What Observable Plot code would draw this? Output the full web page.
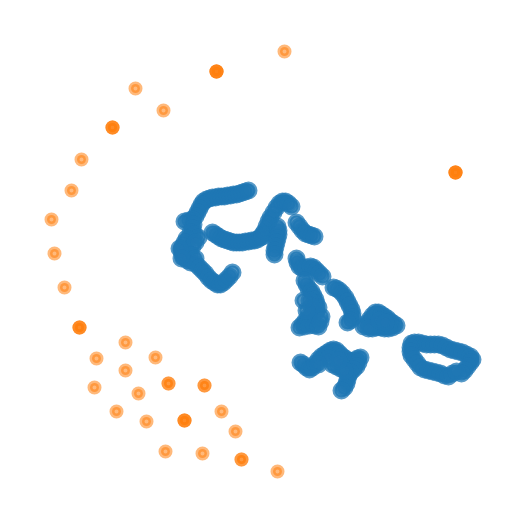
<!DOCTYPE html>
<html><head><meta charset="utf-8">
<script src="https://cdn.jsdelivr.net/npm/d3@7"></script>
<script src="https://cdn.jsdelivr.net/npm/@observablehq/plot@0.6"></script>
<style>body{margin:0;background:#fff}</style>
</head><body><div id="chart"></div>
<script>
// Blue series (x, y)
const blueX = [
  203,206,209,212,215,218,221,224,227,230,233,236,239,242,245,248,
  201,199,197,195,192,188,184,193,192,190,194,198,
  212,215,218,221,224,227,230,233,236,239,242,245,248,251,254,257,260,262,
  186,184,182,181,182,184,187,190,188,192,195,191,195,179,181,
  196,199,202,205,208,211,214,217,220,223,226,229,232,
  262,264,266,268,270,273,276,279,282,285,288,291,277,278,278,277,276,275,274,274,296,299,302,305,308,311,314,
  296,297,299,302,306,310,313,316,319,322,304,306,308,311,313,315,316,318,316,312,308,305,302,299,304,309,314,318,320,321,313,309,311,306,303,
  333,336,339,342,345,347,349,351,352,352,350,347,
  363,366,369,372,375,378,381,384,387,390,393,396,392,388,384,380,376,372,368,379,385,
  411,414,418,422,426,430,434,438,442,446,450,454,458,462,466,470,472,470,467,464,461,
  410,410,411,414,417,420,424,428,432,436,440,444,448,452,456,
  300,303,306,309,312,315,318,321,324,327,330,333,336,339,342,345,348,351,354,357,360,358,356,353,350,348,347,346,344,341,332,336,340,344,328,318,338];
const blueY = [
  201,199,198,197,197,196,196,196,195,195,194,194,193,192,191,190,
  204,208,212,216,219,220,221,224,228,232,234,237,
  232,234,236,238,239,240,241,242,242,242,242,241,241,240,240,239,237,234,
  238,242,246,250,254,257,260,262,250,246,242,255,258,248,258,
  264,267,270,273,277,280,282,284,284,282,279,276,272,
  236,231,226,221,217,212,207,203,201,201,203,206,226,230,234,238,242,246,250,254,222,226,230,233,234,235,236,
  258,262,266,268,267,266,267,270,273,276,280,284,288,291,295,299,303,307,311,313,316,320,324,327,326,325,325,326,321,316,303,300,306,310,300,
  287,288,290,293,297,301,305,309,313,317,320,322,
  326,323,319,315,312,312,314,316,318,321,323,325,327,328,328,327,327,328,328,320,322,
  343,342,342,343,344,344,344,344,345,347,349,350,351,352,354,356,359,362,366,370,373,
  347,351,355,359,363,367,369,370,371,372,373,375,376,373,371,
  362,364,367,369,367,363,359,356,354,352,350,349,350,353,356,358,360,361,360,358,357,362,366,369,372,375,379,383,387,390,364,366,368,370,358,364,360];

// Orange series (x, y, overlap count)
const orangeX = [284,216,135,163,112,81,71,51,54,64,79,125,96,155,125,94,138,168,204,116,146,184,221,235,165,202,241,277,455];
const orangeY = [51,71,88,110,127,159,190,219,253,287,327,342,358,357,370,387,393,383,385,411,421,420,411,431,451,453,459,471,172];
const orangeN = [1,4,1,1,3,1,1,1,1,1,3,1,1,1,1,1,1,2,2,1,1,3,1,1,1,1,2,1,4];

const blue = blueX.map((x, i) => ({x, y: blueY[i]}));
const orange = orangeX.flatMap((x, i) => d3.range(orangeN[i]).map(() => ({x, y: orangeY[i]})));

const chart = Plot.plot({
  width: 525, height: 522,
  margin: 0,
  x: {domain: [0, 525], axis: null},
  y: {domain: [522, 0], axis: null},
  marks: [
    Plot.dot(blue, {x: "x", y: "y", fill: "#1f77b4", stroke: "#1f77b4",
      r: 7, strokeWidth: 4, fillOpacity: 0.8, strokeOpacity: 0.75}),
    Plot.dot(orange, {x: "x", y: "y", fill: "#ff7f0e", stroke: "#ff7f0e",
      r: 4.5, strokeWidth: 5, fillOpacity: 0.55, strokeOpacity: 0.55})
  ]
});
document.getElementById("chart").append(chart);
</script>
</body></html>
